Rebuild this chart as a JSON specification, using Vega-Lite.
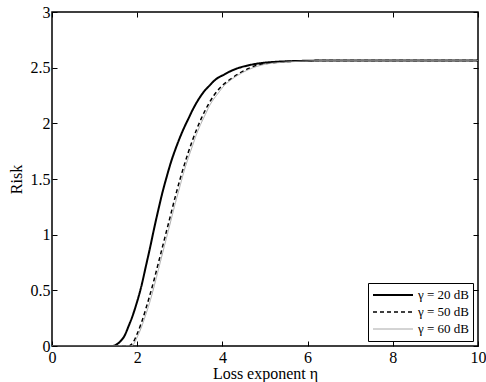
{
  "$schema": "https://vega.github.io/schema/vega-lite/v6.json",
  "width": 426,
  "height": 334,
  "autosize": "none",
  "padding": {"left": 52, "top": 12, "right": 8, "bottom": 36},
  "background": "white",
  "config": {
    "view": {"stroke": "black", "strokeWidth": 1.5},
    "font": "Liberation Serif",
    "axis": {"labelFont": "Liberation Serif", "titleFont": "Liberation Serif", "labelFontSize": 16, "titleFontSize": 16, "titleFontWeight": "normal", "labelColor": "black", "titleColor": "black", "grid": false, "domain": false, "tickColor": "black", "tickWidth": 1, "tickSize": 5, "offset": -5}
  },
  "data": {"values": [
    {"eta": 0, "risk": 0, "s": "γ = 20 dB"},
    {"eta": 1.4, "risk": 0, "s": "γ = 20 dB"},
    {"eta": 1.5, "risk": 0.01, "s": "γ = 20 dB"},
    {"eta": 1.6, "risk": 0.04, "s": "γ = 20 dB"},
    {"eta": 1.7, "risk": 0.09, "s": "γ = 20 dB"},
    {"eta": 1.8, "risk": 0.18, "s": "γ = 20 dB"},
    {"eta": 1.9, "risk": 0.28, "s": "γ = 20 dB"},
    {"eta": 2.0, "risk": 0.40, "s": "γ = 20 dB"},
    {"eta": 2.1, "risk": 0.54, "s": "γ = 20 dB"},
    {"eta": 2.2, "risk": 0.71, "s": "γ = 20 dB"},
    {"eta": 2.3, "risk": 0.88, "s": "γ = 20 dB"},
    {"eta": 2.4, "risk": 1.06, "s": "γ = 20 dB"},
    {"eta": 2.5, "risk": 1.23, "s": "γ = 20 dB"},
    {"eta": 2.6, "risk": 1.39, "s": "γ = 20 dB"},
    {"eta": 2.7, "risk": 1.53, "s": "γ = 20 dB"},
    {"eta": 2.8, "risk": 1.66, "s": "γ = 20 dB"},
    {"eta": 2.9, "risk": 1.77, "s": "γ = 20 dB"},
    {"eta": 3.0, "risk": 1.87, "s": "γ = 20 dB"},
    {"eta": 3.1, "risk": 1.96, "s": "γ = 20 dB"},
    {"eta": 3.2, "risk": 2.04, "s": "γ = 20 dB"},
    {"eta": 3.3, "risk": 2.12, "s": "γ = 20 dB"},
    {"eta": 3.4, "risk": 2.19, "s": "γ = 20 dB"},
    {"eta": 3.5, "risk": 2.25, "s": "γ = 20 dB"},
    {"eta": 3.6, "risk": 2.30, "s": "γ = 20 dB"},
    {"eta": 3.7, "risk": 2.34, "s": "γ = 20 dB"},
    {"eta": 3.8, "risk": 2.38, "s": "γ = 20 dB"},
    {"eta": 3.9, "risk": 2.41, "s": "γ = 20 dB"},
    {"eta": 4.0, "risk": 2.43, "s": "γ = 20 dB"},
    {"eta": 4.2, "risk": 2.47, "s": "γ = 20 dB"},
    {"eta": 4.4, "risk": 2.50, "s": "γ = 20 dB"},
    {"eta": 4.6, "risk": 2.52, "s": "γ = 20 dB"},
    {"eta": 4.8, "risk": 2.535, "s": "γ = 20 dB"},
    {"eta": 5.0, "risk": 2.545, "s": "γ = 20 dB"},
    {"eta": 5.5, "risk": 2.557, "s": "γ = 20 dB"},
    {"eta": 6.0, "risk": 2.562, "s": "γ = 20 dB"},
    {"eta": 6.5, "risk": 2.565, "s": "γ = 20 dB"},
    {"eta": 10, "risk": 2.565, "s": "γ = 20 dB"},
    {"eta": 0, "risk": 0, "s": "γ = 50 dB"},
    {"eta": 1.8, "risk": 0, "s": "γ = 50 dB"},
    {"eta": 1.85, "risk": 0.01, "s": "γ = 50 dB"},
    {"eta": 1.9, "risk": 0.03, "s": "γ = 50 dB"},
    {"eta": 2.0, "risk": 0.11, "s": "γ = 50 dB"},
    {"eta": 2.1, "risk": 0.21, "s": "γ = 50 dB"},
    {"eta": 2.2, "risk": 0.33, "s": "γ = 50 dB"},
    {"eta": 2.3, "risk": 0.46, "s": "γ = 50 dB"},
    {"eta": 2.4, "risk": 0.60, "s": "γ = 50 dB"},
    {"eta": 2.5, "risk": 0.75, "s": "γ = 50 dB"},
    {"eta": 2.6, "risk": 0.90, "s": "γ = 50 dB"},
    {"eta": 2.7, "risk": 1.05, "s": "γ = 50 dB"},
    {"eta": 2.8, "risk": 1.20, "s": "γ = 50 dB"},
    {"eta": 2.9, "risk": 1.35, "s": "γ = 50 dB"},
    {"eta": 3.0, "risk": 1.49, "s": "γ = 50 dB"},
    {"eta": 3.1, "risk": 1.62, "s": "γ = 50 dB"},
    {"eta": 3.2, "risk": 1.74, "s": "γ = 50 dB"},
    {"eta": 3.3, "risk": 1.85, "s": "γ = 50 dB"},
    {"eta": 3.4, "risk": 1.95, "s": "γ = 50 dB"},
    {"eta": 3.5, "risk": 2.04, "s": "γ = 50 dB"},
    {"eta": 3.6, "risk": 2.12, "s": "γ = 50 dB"},
    {"eta": 3.7, "risk": 2.19, "s": "γ = 50 dB"},
    {"eta": 3.8, "risk": 2.25, "s": "γ = 50 dB"},
    {"eta": 3.9, "risk": 2.30, "s": "γ = 50 dB"},
    {"eta": 4.0, "risk": 2.34, "s": "γ = 50 dB"},
    {"eta": 4.2, "risk": 2.40, "s": "γ = 50 dB"},
    {"eta": 4.4, "risk": 2.45, "s": "γ = 50 dB"},
    {"eta": 4.6, "risk": 2.49, "s": "γ = 50 dB"},
    {"eta": 4.8, "risk": 2.52, "s": "γ = 50 dB"},
    {"eta": 5.0, "risk": 2.535, "s": "γ = 50 dB"},
    {"eta": 5.5, "risk": 2.555, "s": "γ = 50 dB"},
    {"eta": 6.0, "risk": 2.562, "s": "γ = 50 dB"},
    {"eta": 6.5, "risk": 2.565, "s": "γ = 50 dB"},
    {"eta": 10, "risk": 2.565, "s": "γ = 50 dB"},
    {"eta": 0, "risk": 0, "s": "γ = 60 dB"},
    {"eta": 1.85, "risk": 0, "s": "γ = 60 dB"},
    {"eta": 1.9, "risk": 0.01, "s": "γ = 60 dB"},
    {"eta": 2.0, "risk": 0.08, "s": "γ = 60 dB"},
    {"eta": 2.1, "risk": 0.17, "s": "γ = 60 dB"},
    {"eta": 2.2, "risk": 0.28, "s": "γ = 60 dB"},
    {"eta": 2.3, "risk": 0.40, "s": "γ = 60 dB"},
    {"eta": 2.4, "risk": 0.54, "s": "γ = 60 dB"},
    {"eta": 2.5, "risk": 0.69, "s": "γ = 60 dB"},
    {"eta": 2.6, "risk": 0.84, "s": "γ = 60 dB"},
    {"eta": 2.7, "risk": 0.99, "s": "γ = 60 dB"},
    {"eta": 2.8, "risk": 1.14, "s": "γ = 60 dB"},
    {"eta": 2.9, "risk": 1.29, "s": "γ = 60 dB"},
    {"eta": 3.0, "risk": 1.43, "s": "γ = 60 dB"},
    {"eta": 3.1, "risk": 1.57, "s": "γ = 60 dB"},
    {"eta": 3.2, "risk": 1.69, "s": "γ = 60 dB"},
    {"eta": 3.3, "risk": 1.80, "s": "γ = 60 dB"},
    {"eta": 3.4, "risk": 1.91, "s": "γ = 60 dB"},
    {"eta": 3.5, "risk": 2.00, "s": "γ = 60 dB"},
    {"eta": 3.6, "risk": 2.08, "s": "γ = 60 dB"},
    {"eta": 3.7, "risk": 2.16, "s": "γ = 60 dB"},
    {"eta": 3.8, "risk": 2.22, "s": "γ = 60 dB"},
    {"eta": 3.9, "risk": 2.27, "s": "γ = 60 dB"},
    {"eta": 4.0, "risk": 2.32, "s": "γ = 60 dB"},
    {"eta": 4.2, "risk": 2.39, "s": "γ = 60 dB"},
    {"eta": 4.4, "risk": 2.44, "s": "γ = 60 dB"},
    {"eta": 4.6, "risk": 2.48, "s": "γ = 60 dB"},
    {"eta": 4.8, "risk": 2.51, "s": "γ = 60 dB"},
    {"eta": 5.0, "risk": 2.53, "s": "γ = 60 dB"},
    {"eta": 5.5, "risk": 2.55, "s": "γ = 60 dB"},
    {"eta": 6.0, "risk": 2.56, "s": "γ = 60 dB"},
    {"eta": 6.5, "risk": 2.565, "s": "γ = 60 dB"},
    {"eta": 10, "risk": 2.565, "s": "γ = 60 dB"}
  ]},
  "resolve": {"axis": {"x": "independent", "y": "independent"}},
  "layer": [
    {
      "mark": {"type": "line", "strokeOpacity": 0},
      "encoding": {
        "x": {"field": "eta", "type": "quantitative", "scale": {"domain": [0, 10], "nice": false, "zero": false}, "axis": {"orient": "top", "values": [0, 2, 4, 6, 8, 10], "labels": false, "title": null}},
        "y": {"field": "risk", "type": "quantitative", "scale": {"domain": [0, 3], "nice": false}, "axis": {"orient": "right", "values": [0, 0.5, 1, 1.5, 2, 2.5, 3], "labels": false, "title": null}},
        "detail": {"field": "s", "type": "nominal"}
      }
    },
    {
      "mark": {"type": "line", "clip": true, "interpolate": "monotone"},
      "encoding": {
        "x": {"field": "eta", "type": "quantitative", "axis": {"orient": "bottom", "values": [0, 2, 4, 6, 8, 10], "labelPadding": 3, "title": "Loss exponent η", "titlePadding": 0, "labelFlush": false}},
        "y": {"field": "risk", "type": "quantitative", "axis": {"orient": "left", "values": [0, 0.5, 1, 1.5, 2, 2.5, 3], "format": "~g", "labelPadding": 2, "title": "Risk", "titlePadding": 6, "labelFlush": false}},
        "color": {"field": "s", "type": "nominal", "scale": {"domain": ["γ = 20 dB", "γ = 50 dB", "γ = 60 dB"], "range": ["black", "black", "#a8a8a8"]},
          "legend": {"title": null, "orient": "none", "legendX": 316, "legendY": 271, "strokeColor": "black", "fillColor": "white", "padding": 4, "symbolType": "stroke", "symbolSize": 1600, "clipHeight": 16, "symbolOffset": 0, "labelOffset": 4, "labelFont": "Liberation Serif", "labelFontSize": 13, "labelColor": "black", "rowPadding": 1}},
        "strokeDash": {"field": "s", "type": "nominal", "scale": {"domain": ["γ = 20 dB", "γ = 50 dB", "γ = 60 dB"], "range": [[1, 0], [4, 3], [1, 0]]},
          "legend": {"title": null, "orient": "none", "legendX": 316, "legendY": 271, "strokeColor": "black", "fillColor": "white", "padding": 4, "symbolType": "stroke", "symbolSize": 1600, "clipHeight": 16, "symbolOffset": 0, "labelOffset": 4, "labelFont": "Liberation Serif", "labelFontSize": 13, "labelColor": "black", "rowPadding": 1}},
        "strokeWidth": {"field": "s", "type": "nominal", "scale": {"domain": ["γ = 20 dB", "γ = 50 dB", "γ = 60 dB"], "range": [2, 1, 1]},
          "legend": {"title": null, "orient": "none", "legendX": 316, "legendY": 271, "strokeColor": "black", "fillColor": "white", "padding": 4, "symbolType": "stroke", "symbolSize": 1600, "clipHeight": 16, "symbolOffset": 0, "labelOffset": 4, "labelFont": "Liberation Serif", "labelFontSize": 13, "labelColor": "black", "rowPadding": 1}}
      }
    }
  ]
}
